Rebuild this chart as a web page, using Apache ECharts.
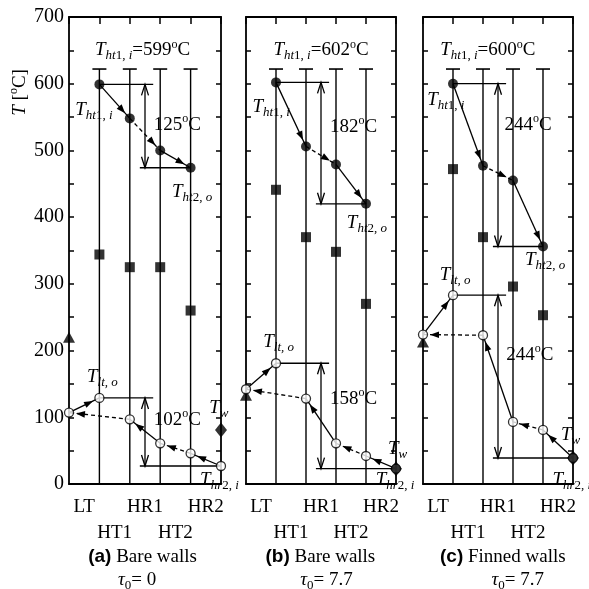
<!DOCTYPE html>
<html>
<head>
<meta charset="utf-8">
<script src="https://cdn.jsdelivr.net/npm/echarts@6/dist/echarts.min.js"></script>
<style>
  html, body { margin: 0; padding: 0; background: #fff; }
  #chart { width: 589px; height: 589px; }
</style>
</head>
<body>
<div id="chart"></div>
<script>
// Section names along each panel (heat-exchanger stages)
const categories = ['LT', 'HT1', 'HR1', 'HT2', 'HR2'];
const yTickLabels = [0, 100, 200, 300, 400, 500, 600, 700];

// Panel captions: tag, wall type, tau_0
const captionTags = ['(a)', '(b)', '(c)'];
const captionWalls = ['Bare walls', 'Bare walls', 'Finned walls'];
const captionTau = ['0', '7.7', '7.7'];

// Heating-gas temperature at the stage boundaries HT1 .. HR2 (filled circles)
const gasA = [599, 548, 500, 474];
const gasB = [602, 506, 479, 420];
const gasC = [600, 477, 455, 356];

// Working-loop temperature at boundaries LT .. outlet (open circles)
const loopA = [107, 129, 97, 61, 46, 27];
const loopB = [142, 181, 128, 61, 42, 23];
const loopC = [224, 283, 223, 93, 81, 39];

// Wall temperatures (filled squares)
const wallA = [344, 325, 325, 260];
const wallB = [441, 370, 348, 270];
const wallC = [472, 370, 296, 253];

// Inlet temperature at LT (triangle) and T_w (diamond)
const inletA = 220, inletB = 133, inletC = 213;
const twA = 81, twB = 23, twC = 39;

const SERIF = 'Liberation Serif';
const SANS = 'Liberation Sans';
const INK = '#000';
const LINE_TOP = 622;   // top end of the stage divider lines

const rich = {
  t:  { fontFamily: SERIF, fontStyle: 'italic', fontSize: 19, lineHeight: 24, color: INK },
  n:  { fontFamily: SERIF, fontSize: 19, lineHeight: 24, color: INK },
  s:  { fontFamily: SERIF, fontStyle: 'italic', fontSize: 13, lineHeight: 10, verticalAlign: 'bottom', color: INK },
  r:  { fontFamily: SERIF, fontSize: 13, lineHeight: 10, verticalAlign: 'bottom', color: INK },
  o:  { fontFamily: SERIF, fontSize: 12, lineHeight: 12, verticalAlign: 'top', color: INK },
  bd: { fontFamily: SANS, fontWeight: 'bold', fontSize: 19, lineHeight: 24, color: INK }
};

const T_ht1i = '{t|T}{s|ht}{r|1, }{s|i}';
const T_ht2o = '{t|T}{s|ht}{r|2, }{s|o}';
const T_lto  = '{t|T}{s|lt, o}';
const T_hr2i = '{t|T}{s|hr}{r|2, }{s|i}';
const T_w    = '{t|T}{s|w}';
const deg = v => '{n|' + v + '}{o|o}{n|C}';

const panels = [
  { gas: gasA, loop: loopA, wall: wallA, inlet: inletA, tw: twA,
    at: { head: [2.42, 650], gasIn: [0.82, 561], drop1: [3.56, 538], gasOut: [4.05, 438],
          loopOut: [1.1, 161], drop2: [3.56, 96], tw: [4.93, 114], hrIn: [4.95, 6],
          cap: [2.42, -109], tau: [2.24, -144] } },
  { gas: gasB, loop: loopB, wall: wallB, inlet: inletB, tw: twB,
    at: { head: [2.5, 650], gasIn: [0.84, 565], drop1: [3.59, 535], gasOut: [4.03, 391],
          loopOut: [1.09, 213], drop2: [3.59, 128], tw: [5.05, 52], hrIn: [4.97, 6],
          cap: [2.48, -109], tau: [2.68, -144] } },
  { gas: gasC, loop: loopC, wall: wallC, inlet: inletC, tw: twC,
    at: { head: [2.16, 650], gasIn: [0.76, 575], drop1: [3.5, 538], gasOut: [4.07, 336],
          loopOut: [1.07, 313], drop2: [3.56, 193], tw: [4.92, 73], hrIn: [4.96, 6],
          cap: [2.66, -109], tau: [3.16, -144] } }
];

const grids = [
  { left: 69, top: 17, width: 152, height: 467 },
  { left: 246, top: 17, width: 150, height: 467 },
  { left: 423, top: 17, width: 150, height: 467 }
];

// Lines, flow arrows and temperature-drop brackets of one panel
function drawPanel(p) {
  return function (params, api) {
    const c = (x, y) => api.coord([x, y]);
    const kids = [];
    const seg = (a, b, extra) => kids.push({
      type: 'line',
      shape: { x1: a[0], y1: a[1], x2: b[0], y2: b[1] },
      style: Object.assign({ stroke: INK, lineWidth: 1.3, fill: null }, extra || {})
    });
    const poly = (pts) => kids.push({
      type: 'polyline', shape: { points: pts },
      style: { stroke: INK, lineWidth: 1.3, fill: null }
    });

    // stage divider lines with caps
    for (let k = 1; k <= 4; k++) {
      const bot = c(k, 0), top = c(k, LINE_TOP);
      seg(bot, top, { lineWidth: 1.4 });
      seg([top[0] - 7, top[1]], [top[0] + 7, top[1]], { lineWidth: 1.6 });
    }

    // flow segment with a filled arrowhead close to its end point
    const flow = (x0, y0, x1, y1, dashed) => {
      const a = c(x0, y0), b = c(x1, y1);
      seg(a, b, dashed ? { lineDash: [4, 3] } : {});
      const dx = b[0] - a[0], dy = b[1] - a[1];
      const L = Math.hypot(dx, dy), ux = dx / L, uy = dy / L;
      const tip = [b[0] - ux * 7, b[1] - uy * 7];
      const base = [tip[0] - ux * 9, tip[1] - uy * 9];
      kids.push({
        type: 'polygon',
        shape: { points: [tip, [base[0] - uy * 3.3, base[1] + ux * 3.3], [base[0] + uy * 3.3, base[1] - ux * 3.3]] },
        style: { fill: INK }
      });
    };

    // gas stream: HT1 -> HR1 -> HT2 -> HR2
    const g = p.gas;
    flow(1, g[0], 2, g[1], false);
    flow(2, g[1], 3, g[2], true);
    flow(3, g[2], 4, g[3], false);

    // loop stream
    const w = p.loop;
    flow(0, w[0], 1, w[1], false);
    flow(5, w[5], 4, w[4], false);
    flow(4, w[4], 3, w[3], true);
    flow(3, w[3], 2, w[2], false);
    flow(2, w[2], 0, w[0], true);

    // temperature-drop bracket with open arrowheads
    const bracket = (hi, lo, endX) => {
      seg(c(1, hi), c(2.77, hi));
      seg(c(2.33, lo), c(endX, lo));
      const a = c(2.5, hi), b = c(2.5, lo);
      seg(a, b);
      poly([[a[0] - 3.5, a[1] + 11], a, [a[0] + 3.5, a[1] + 11]]);
      poly([[b[0] - 3.5, b[1] - 11], b, [b[0] + 3.5, b[1] - 11]]);
    };
    bracket(g[0], g[3], 4);
    bracket(w[1], w[5], 5);

    return { type: 'group', children: kids };
  };
}

const xAxes = [], yAxes = [], series = [];

panels.forEach((p, i) => {
  xAxes.push({
    type: 'value', gridIndex: i, min: 0, max: 5, interval: 0.5,
    axisLine: { onZero: false, lineStyle: { color: INK, width: 1.8 } },
    axisTick: { show: false }, splitLine: { show: false },
    axisLabel: {
      margin: 10, fontFamily: SERIF, fontSize: 19, lineHeight: 26, color: INK,
      formatter: v => {
        const k = v - 0.5;
        if (Number.isInteger(k) && k >= 0 && k < categories.length) {
          return (k % 2 ? '\n' : '') + categories[k];
        }
        return '';
      }
    }
  });
  xAxes.push({
    type: 'value', gridIndex: i, position: 'top', min: 0, max: 5, interval: 1,
    axisLine: { onZero: false, lineStyle: { color: INK, width: 1.8 } },
    axisTick: { inside: true, length: 7, lineStyle: { color: INK, width: 1.5 } },
    axisLabel: { show: false }, splitLine: { show: false }
  });
  yAxes.push({
    type: 'value', gridIndex: i, min: 0, max: 700, interval: 50,
    axisLine: { onZero: false, lineStyle: { color: INK, width: 1.8 } },
    axisTick: { inside: true, length: 5, lineStyle: { color: INK, width: 1.5 } },
    splitLine: { show: false },
    axisLabel: {
      show: i === 0, margin: 5, fontFamily: SERIF, fontSize: 20, color: INK,
      formatter: v => (yTickLabels.indexOf(v) >= 0 ? String(v) : '')
    }
  });
  yAxes.push({
    type: 'value', gridIndex: i, position: 'right', min: 0, max: 700, interval: 50,
    axisLine: { onZero: false, lineStyle: { color: INK, width: 1.8 } },
    axisTick: { inside: true, length: 5, lineStyle: { color: INK, width: 1.5 } },
    axisLabel: { show: false }, splitLine: { show: false }
  });

  const xi = 2 * i, yi = 2 * i;
  const base = { xAxisIndex: xi, yAxisIndex: yi, silent: true, animation: false, clip: false };

  series.push(Object.assign({}, base, {
    type: 'custom', z: 1, data: [[0, 0]], renderItem: drawPanel(p)
  }));
  series.push(Object.assign({}, base, {
    type: 'scatter', z: 3, symbol: 'rect', symbolSize: 10,
    itemStyle: { color: INK },
    data: p.wall.map((v, k) => [k + 1, v])
  }));
  series.push(Object.assign({}, base, {
    type: 'scatter', z: 3, symbol: 'circle', symbolSize: 10,
    itemStyle: { color: INK },
    data: p.gas.map((v, k) => [k + 1, v])
  }));
  series.push(Object.assign({}, base, {
    type: 'scatter', z: 3, symbol: 'triangle', symbolSize: [12, 11],
    itemStyle: { color: INK },
    data: [[0, p.inlet]]
  }));
  series.push(Object.assign({}, base, {
    type: 'scatter', z: 4, symbol: 'circle', symbolSize: 9,
    itemStyle: { color: '#fff', borderColor: INK, borderWidth: 1.3 },
    data: p.loop.map((v, k) => [k, v])
  }));
  series.push(Object.assign({}, base, {
    type: 'scatter', z: 5, symbol: 'diamond', symbolSize: [12, 15],
    itemStyle: { color: INK },
    data: [[5, p.tw]]
  }));

  // annotation texts
  const a = p.at;
  const texts = [
    [a.head, T_ht1i + '{n|=' + p.gas[0] + '}{o|o}{n|C}'],
    [a.gasIn, T_ht1i],
    [a.drop1, deg(p.gas[0] - p.gas[3])],
    [a.gasOut, T_ht2o],
    [a.loopOut, T_lto],
    [a.drop2, deg(p.loop[1] - p.loop[5])],
    [a.tw, T_w],
    [a.hrIn, T_hr2i],
    [a.cap, '{bd|' + captionTags[i] + '}{n| ' + captionWalls[i] + '}'],
    [a.tau, '{t|τ}{r|0}{n|= ' + captionTau[i] + '}']
  ];
  const items = texts.map(([pos, txt]) => ({ value: pos, label: { formatter: txt } }));
  if (i === 0) {
    items.push({
      value: [-1.61, 587],
      label: { formatter: '{t|T}{n| [}{o|o}{n|C]}', rotate: 90 }
    });
  }
  series.push(Object.assign({}, base, {
    type: 'scatter', z: 10, symbol: 'circle', symbolSize: 0,
    itemStyle: { color: INK, opacity: 1 },
    label: {
      show: true, position: 'inside', align: 'center', verticalAlign: 'middle',
      color: INK, opacity: 1, textBorderWidth: 0, rich: rich
    },
    data: items
  }));
});

const chart = echarts.init(document.getElementById('chart'), null, { renderer: 'canvas' });
chart.setOption({
  backgroundColor: '#fff',
  animation: false,
  grid: grids.map(g => Object.assign({ outerBoundsMode: 'none', containLabel: false }, g)),
  xAxis: xAxes,
  yAxis: yAxes,
  series: series
});
</script>
</body>
</html>
